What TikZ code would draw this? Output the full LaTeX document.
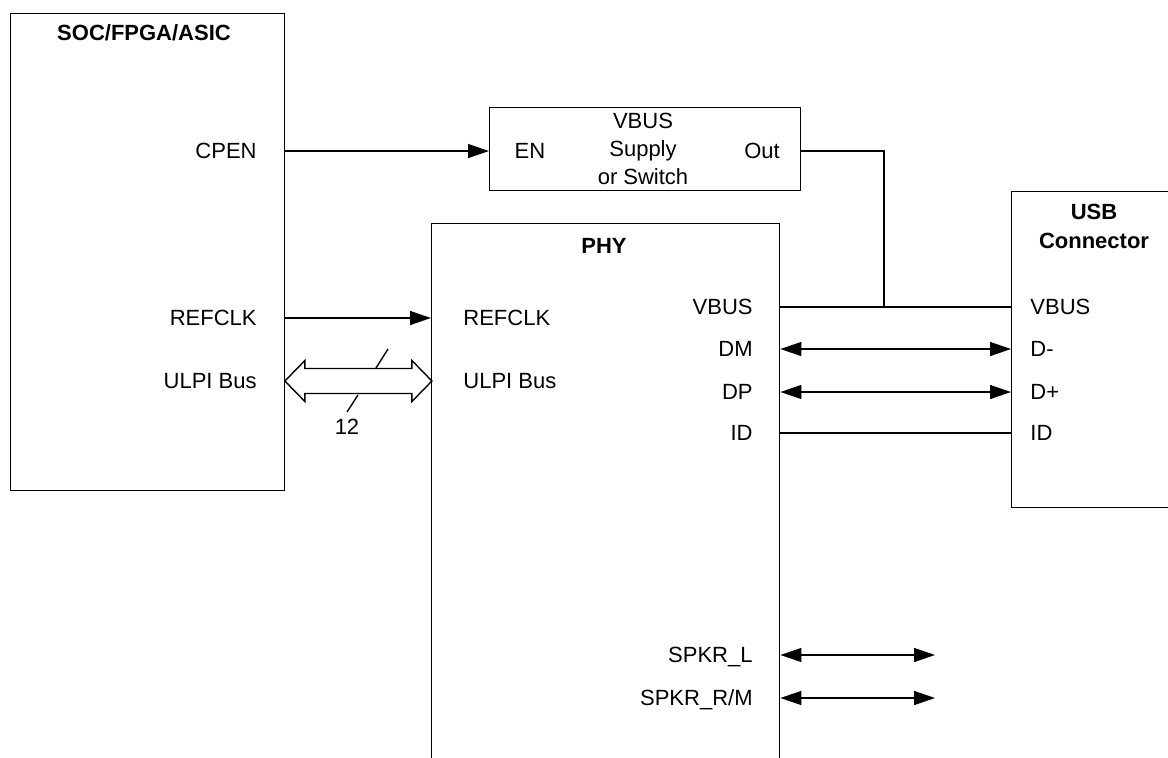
\documentclass[tikz,border=0pt]{standalone}
\usepackage{fontspec}
\setmainfont{Liberation Sans}
\usepackage{tikz}
\usetikzlibrary{arrows.meta}
\tikzset{
  blk/.style={draw, line width=0.7pt, inner sep=0pt, anchor=north west},
  ttl/.style={font=\fontsize{11}{14.5}\selectfont\bfseries, align=center, inner sep=0pt},
  pin/.style={font=\fontsize{11}{14}\selectfont, inner sep=0pt, text height=7.5pt, text depth=0pt},
  sig/.style={line width=0.7pt},
  tip/.style={-{Triangle[length=10.5pt,width=7pt]}},
  bidir/.style={{Triangle[length=10.5pt,width=7pt]}-{Triangle[length=10.5pt,width=7pt]}}
}

\begin{document}
\begin{tikzpicture}[x=0.5pt, y=-0.5pt]
        \useasboundingbox (0,0) rectangle (1168,757);
        \node[blk, minimum width=137pt, minimum height=238.75pt] (soc) at (9.5,12.5) {};
        \node[blk, minimum width=155.5pt, minimum height=41.5pt] (vsup) at (489,107) {};
        \node[blk, minimum width=174pt, minimum height=290pt] (phy) at (431,223) {};
        \node[blk, minimum width=94.5pt, minimum height=158pt] (usb) at (1011,191) {};
        \node[ttl] (socT) at (144,33) {SOC/FPGA/ASIC};
        \node[ttl] (phyT) at (604,246) {PHY};
        \node[ttl] (usbT) at (1094,226) {USB\\Connector};
        \node[pin, anchor=east] (cpen) at (257,151) {CPEN};
        \node[pin, anchor=east] (refclkS) at (257,318) {REFCLK};
        \node[pin, anchor=east] (ulpiS) at (257,381) {ULPI Bus};
        \node[pin] (en) at (530,151) {EN};
        \node[font=\fontsize{11}{14}\selectfont, align=center, inner sep=0pt] (supT) at (643,149) {VBUS\\Supply\\or Switch};
        \node[pin] (out) at (762,151) {Out};
        \node[pin, anchor=west] (refclkP) at (463,318) {REFCLK};
        \node[pin, anchor=west] (ulpiP) at (463,381) {ULPI Bus};
        \node[pin, anchor=east] (vbusP) at (753,307) {VBUS};
        \node[pin, anchor=east] (dm) at (753,349) {DM};
        \node[pin, anchor=east] (dp) at (753,392) {DP};
        \node[pin, anchor=east] (idP) at (753,433) {ID};
        \node[pin, anchor=east] (spkrL) at (753,655) {SPKR\_L};
        \node[pin, anchor=east] (spkrR) at (753,698) {SPKR\_R/M};
        \node[pin, anchor=west] (vbusU) at (1030,307) {VBUS};
        \node[pin, anchor=west] (dmU) at (1030,349) {D-};
        \node[pin, anchor=west] (dpU) at (1030,392) {D+};
        \node[pin, anchor=west] (idU) at (1030,433) {ID};
        \node[pin] (width) at (347,427) {12};
        \coordinate (jn) at (884,307);
        \coordinate (spkLend) at (935,655);
        \coordinate (spkRend) at (935,698);
        \draw[sig,tip] (soc.east |- cpen) -- (vsup.west |- cpen);
        \draw[sig,tip] (soc.east |- refclkS) -- (phy.west |- refclkS);
         \draw[sig] (vsup.east |- out) -| (jn);
        \draw[sig] (phy.east |- vbusP) -- (usb.west |- vbusU);
         \draw[sig,bidir] (phy.east |- dm) -- (usb.west |- dmU);
         \draw[sig,bidir] (phy.east |- dp) -- (usb.west |- dpU);
        \draw[sig] (phy.east |- idP) -- (usb.west |- idU);
          \draw[sig,bidir] (phy.east |- spkrL) -- (spkLend);
          \draw[sig,bidir] (phy.east |- spkrR) -- (spkRend);
        \draw[sig, line join=miter] (soc.east |- ulpiS) -- ++(20,-20.5) -- ++(0,8) -- ++(107,0) -- ++(0,-8)
          -- ++(20,20.5) -- ++(-20,20.5) -- ++(0,-8) -- ++(-107,0) -- ++(0,8) -- cycle;
        \draw[sig] (388,349) -- (376,368);
        \draw[sig] (358,395) -- (347,412);
    \end{tikzpicture}
\end{document}
